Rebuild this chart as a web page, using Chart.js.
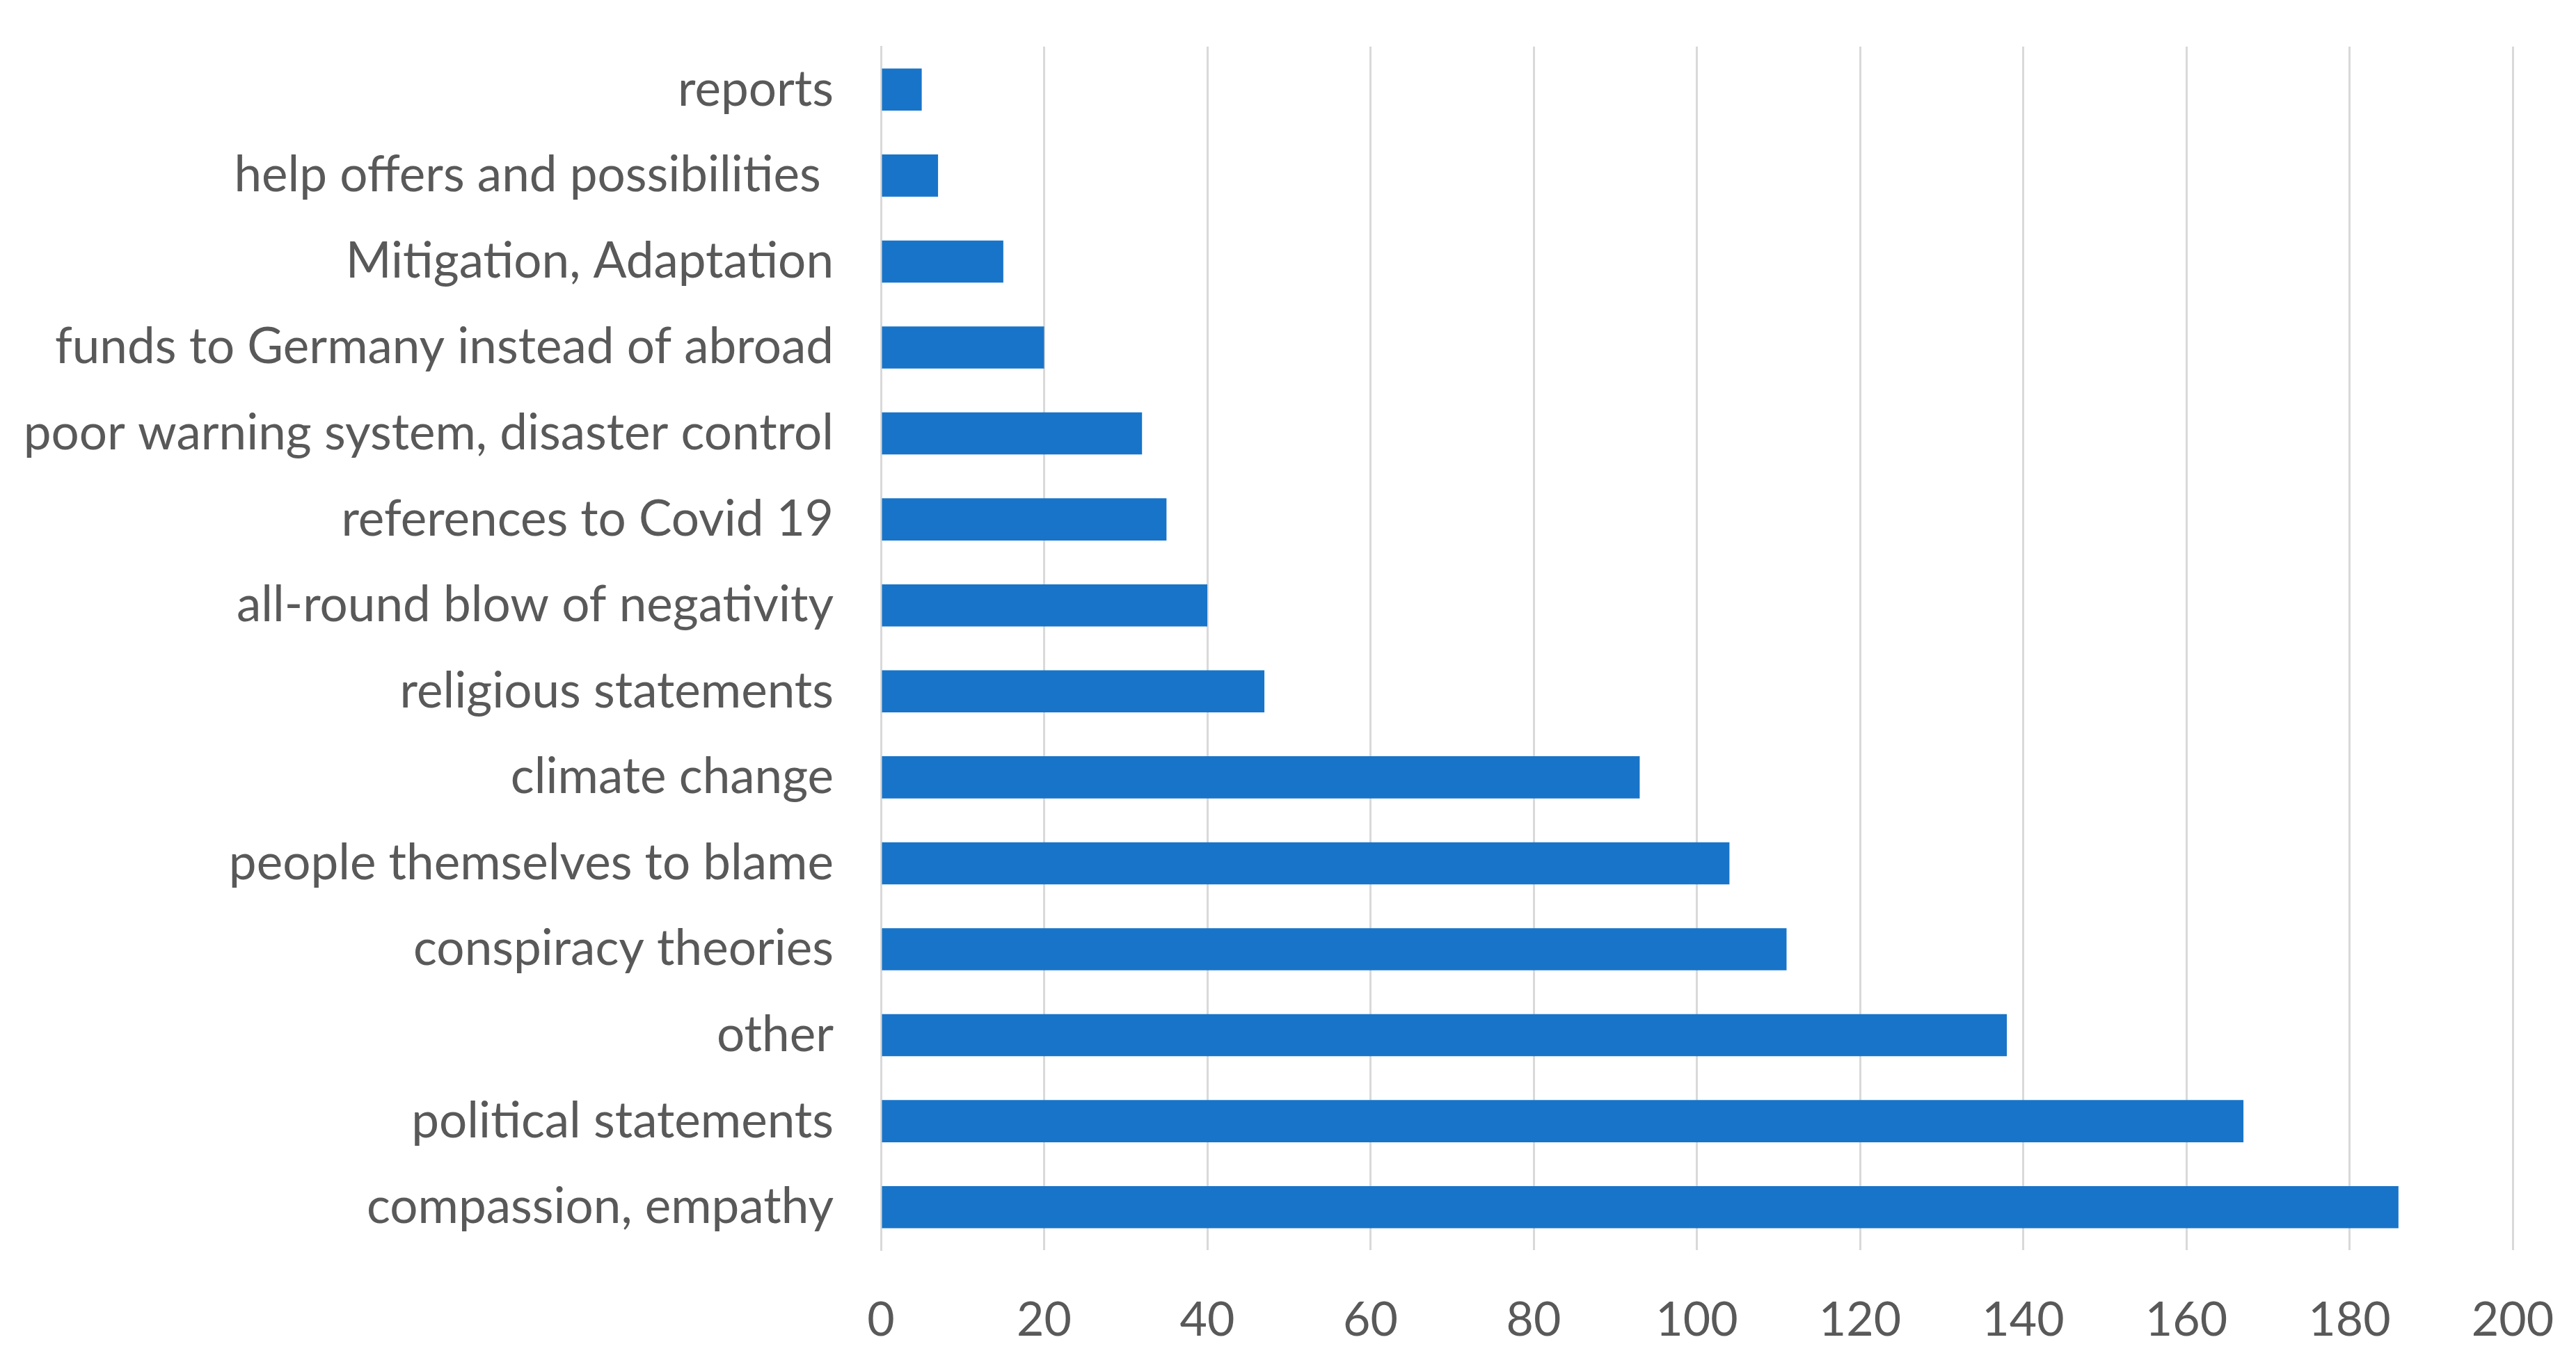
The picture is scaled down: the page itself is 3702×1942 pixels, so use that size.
<!DOCTYPE html>
<html>
<head>
<meta charset="utf-8">
<script src="https://cdn.jsdelivr.net/npm/chart.js@4"></script>
<style>
  html, body { margin: 0; padding: 0; background: #ffffff; }
  #chart { display: block; }
</style>
</head>
<body>
<canvas id="chart" width="3702" height="1942"></canvas>
<script>
// categories, top to bottom
const categories = [
    'reports',
    'help offers and possibilities ',
    'Mitigation, Adaptation',
    'funds to Germany instead of abroad',
    'poor warning system, disaster control',
    'references to Covid 19',
    'all-round blow of negativity',
    'religious statements',
    'climate change',
    'people themselves to blame',
    'conspiracy theories',
    'other',
    'political statements',
    'compassion, empathy'
];
const counts = [5, 7, 15, 20, 32, 35, 40, 47, 93, 104, 111, 138, 167, 186];
const xTicks = [0, 20, 40, 60, 80, 100, 120, 140, 160, 180, 200];

const textColor = '#595959';
const gridColor = '#d9d9d9';
const fontFamily = 'Lato, "Open Sans", sans-serif';

const ctx = document.getElementById('chart').getContext('2d');
new Chart(ctx, {
    type: 'bar',
    data: {
        labels: categories,
        datasets: [{
            data: counts,
            backgroundColor: '#1874c8',
            borderWidth: 0,
            categoryPercentage: 1.0,
            barPercentage: 0.49
        }]
    },
    options: {
        indexAxis: 'y',
        responsive: false,
        animation: false,
        devicePixelRatio: 1,
        layout: { padding: { top: 67, right: 91, bottom: 0, left: 0 } },
        plugins: {
            legend: { display: false },
            tooltip: { enabled: false }
        },
        scales: {
            x: {
                min: 0,
                max: 200,
                afterBuildTicks: axis => { axis.ticks = xTicks.map(v => ({ value: v })); },
                afterFit: axis => {
                    axis.height = 145;
                    axis.paddingLeft = 0;
                    axis.paddingRight = 0;
                },
                grid: { color: gridColor, lineWidth: 3, drawTicks: false },
                border: { display: false },
                ticks: {
                    color: textColor,
                    padding: 60,
                    font: { family: fontFamily, size: 68 }
                }
            },
            y: {
                afterFit: axis => {
                    axis.width = 1266;
                    axis.paddingTop = 0;
                    axis.paddingBottom = 0;
                },
                grid: { display: false },
                border: { color: gridColor, width: 3 },
                ticks: {
                    color: textColor,
                    padding: 60,
                    autoSkip: false,
                    font: { family: fontFamily, size: 71 }
                }
            }
        }
    }
});
</script>
</body>
</html>
